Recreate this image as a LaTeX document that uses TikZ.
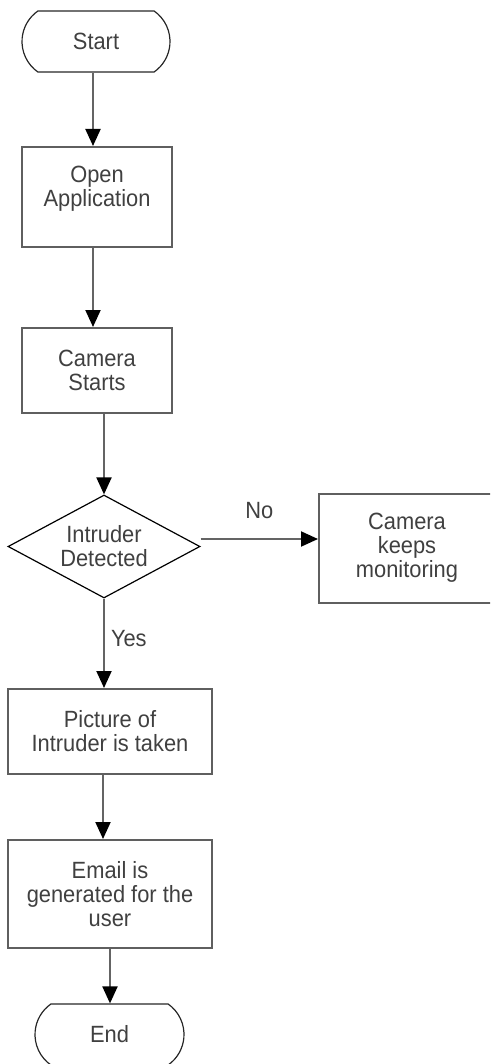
\documentclass[tikz,border=0pt]{standalone}
\usepackage{fontspec}
\setmainfont{Liberation Sans}[FakeStretch=0.93]
\usetikzlibrary{shapes.geometric,shapes.misc,arrows.meta}
\definecolor{txt}{RGB}{64,64,64}
\definecolor{boxline}{RGB}{95,95,95}
\definecolor{arrline}{RGB}{100,100,100}
\begin{document}
\begin{tikzpicture}[x=1pt,y=-1pt,
  every node/.style={font=\fontsize{23.5}{24}\selectfont, text=txt, align=center},
  procbox/.style={draw=boxline, line width=2pt, rectangle, inner sep=0pt},
  termbox/.style={draw=black!85, line width=1.2pt, rounded rectangle, rounded rectangle arc length=110, inner sep=0pt, minimum width=148pt, minimum height=61pt},
  decbox/.style={draw=black, line width=1.2pt, diamond, shape aspect=1.864, inner sep=0pt},
  arr/.style={draw=arrline, line width=2pt, -{Triangle[length=17pt,width=15pt,color=black]}},
  lbl/.style={inner sep=0pt}
]
\useasboundingbox (0,0) rectangle (490,1064);
\begin{scope}
\clip (0,0) rectangle (490,1064);
\node[termbox] (start) at (96,41.5) {Start};
\node[procbox, minimum width=150pt, minimum height=100pt] (open) at (97,197) {\raisebox{7pt}[\height][\depth]{\begin{tabular}{@{}c@{}}Open\\Application\end{tabular}}};
\node[procbox, minimum width=150pt, minimum height=85pt] (cam) at (97,370.5) {Camera\\Starts};
\node[decbox, minimum width=192pt, minimum height=103pt] (dec) at (104,546.5) {Intruder\\Detected};
\node[procbox, minimum width=220pt, minimum height=109pt] (mon) at (429,548.5) {\hspace*{-44pt}\begin{tabular}{@{}c@{}}Camera\\keeps\\monitoring\end{tabular}};
\node[procbox, minimum width=204pt, minimum height=85pt] (pic) at (110,731.5) {Picture of\\Intruder is taken};
\node[procbox, minimum width=204pt, minimum height=108pt] (mail) at (110,894) {Email is\\generated for the\\user};
\node[termbox, minimum width=149pt] (end) at (109.5,1034.5) {End};

\draw[arr] ([xshift=-3pt]start.south) -- ([xshift=-3pt]start.south |- open.north);
\draw[arr] ([xshift=-4pt]open.south) -- ([xshift=-4pt]open.south |- cam.north);
\draw[arr] (dec.north |- cam.south) -- (dec.north);
\draw[arr] (dec.south) -- (dec.south |- pic.north) node[lbl, pos=0.45, anchor=west, xshift=6pt] {Yes};
\draw[arr] ([xshift=-7pt]pic.south) -- ([xshift=-7pt]pic.south |- mail.north);
\draw[arr] (mail.south) -- (mail.south |- end.north);
\draw[arr] ([yshift=7.5pt]dec.east) -- ([yshift=7.5pt]dec.east -| mon.west) node[lbl, midway, yshift=28pt] {No};
\end{scope}
\end{tikzpicture}
\end{document}
